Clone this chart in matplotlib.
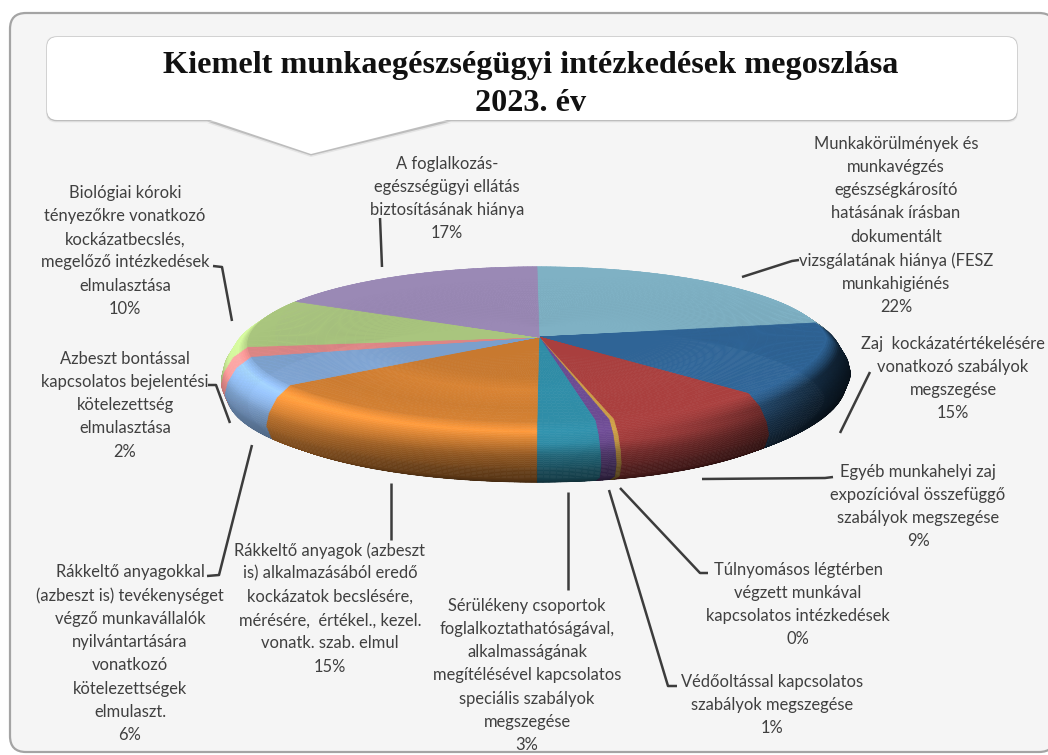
import numpy as np
import matplotlib
matplotlib.use("Agg")
import matplotlib.pyplot as plt
from matplotlib.collections import PolyCollection
from matplotlib.patches import FancyBboxPatch, Polygon

# ---- data (clockwise from the top of the pie) ----
values = [22, 15, 9, 0.25, 0.75, 3, 15, 6, 2, 10, 17]
colors = ["#7FB1C4", "#2F6496", "#A93F3E", "#C79A45", "#6B4A90", "#2F8CA6",
          "#C8792F", "#7B9FCC", "#DC8585", "#A9C57E", "#9A89B5"]
gloss = [0.4, 0.5, 0.15, 0.3, 0.3, 0.2, 1.0, 0.9, 0.6, 0.6, 0.4]
labels = [
    "Munkakörülmények és\nmunkavégzés\negészségkárosító\nhatásának írásban\ndokumentált\nvizsgálatának hiánya (FESZ\nmunkahigiénés\n22%",
    "Zaj  kockázatértékelésére\nvonatkozó szabályok\nmegszegése\n15%",
    "Egyéb munkahelyi zaj\nexpozícióval összefüggő\nszabályok megszegése\n9%",
    "Túlnyomásos légtérben\nvégzett munkával\nkapcsolatos intézkedések\n0%",
    "Védőoltással kapcsolatos\nszabályok megszegése\n1%",
    "Sérülékeny csoportok\nfoglalkoztathatóságával,\nalkalmasságának\nmegítélésével kapcsolatos\nspeciális szabályok\nmegszegése\n3%",
    "Rákkeltő anyagok (azbeszt\nis) alkalmazásából eredő\nkockázatok becslésére,\nmérésére,  értékel., kezel.\nvonatk. szab. elmul\n15%",
    "Rákkeltő anyagokkal\n(azbeszt is) tevékenységet\nvégző munkavállalók\nnyilvántartására\nvonatkozó\nkötelezettségek\nelmulaszt.\n6%",
    "Azbeszt bontással\nkapcsolatos bejelentési\nkötelezettség\nelmulasztása\n2%",
    "Biológiai kóroki\ntényezőkre vonatkozó\nkockázatbecslés,\nmegelőző intézkedések\nelmulasztása\n10%",
    "A foglalkozás-\negészségügyi ellátás\nbiztosításának hiánya\n17%",
]
title = "Kiemelt munkaegészségügyi intézkedések megoszlása\n2023. év"

# label anchors (centre x, top y)
label_pos = [(896, 136), (953, 336), (918, 464), (798, 562), (772, 674), (527, 598),
             (330, 542), (130, 564), (125, 351), (125, 185), (447, 156)]
leaders = [
    [(742, 277), (792, 261), (799, 260)],
    [(840, 433), (870, 372)],
    [(702, 479), (825, 478), (833, 477)],
    [(620, 488), (700, 573), (708, 573)],
    [(609, 490), (668, 686), (677, 686)],
    [(568, 492), (568, 590)],
    [(391, 483), (391, 540)],
    [(252, 445), (219, 575), (207, 576)],
    [(230, 423), (216, 385), (208, 385)],
    [(232, 321), (222, 267), (213, 266)],
    [(382, 267), (380, 218)],
]

fig = plt.figure(figsize=(10.48, 7.55), dpi=100)
ax = fig.add_axes([0, 0, 1, 1])
ax.set_xlim(0, 1048)
ax.set_ylim(755, 0)
ax.axis("off")

# ---- panel ----
ax.add_patch(FancyBboxPatch((10, 13), 1045, 739, boxstyle="round,pad=0,rounding_size=16",
                            fc="#F5F5F5", ec="#A4A4A4", lw=1.6, zorder=1))

# ---- callout ----
ptr = [(207, 120), (311, 154), (451, 120)]
for grow, col in ((3, "#E4E4E4"), (1.5, "#BDBDBD")):
    ax.add_patch(FancyBboxPatch((47 - grow * .3, 37 - grow * .3), 970 + grow * .6, 83 + grow * 1.1,
                                boxstyle="round,pad=0,rounding_size=10", fc=col, ec="none", zorder=1.5))
    ax.add_patch(Polygon([(x, y + grow) for x, y in ptr], fc=col, ec="none", zorder=1.5))
ax.add_patch(FancyBboxPatch((47, 37), 970, 83, boxstyle="round,pad=0,rounding_size=10",
                            fc="white", ec="none", zorder=2))
ax.add_patch(Polygon([(207, 119), (311, 154), (451, 119)], fc="white", ec="none", zorder=2.1))
ax.text(531, 84.5, title, ha="center", va="center", family="Liberation Serif", weight="bold",
        fontsize=23.2, color="#111111", linespacing=1.45, zorder=3)

# ---- pie ----
CX, CY, AX, BY, K, SKEW = 539.0, 337.0, 288.0, 77.0, 0.097, -2.0

def project(r, phi, drop=0.0):
    w = 1 + K * r * np.cos(phi)
    pull = 1 - 0.12 * np.clip(np.sin(phi), 0, 1) * np.clip(-np.cos(phi), 0, 1)
    return CX + SKEW * r + AX * r * np.sin(phi) / w * pull, CY - BY * r * np.cos(phi) / w + drop

T_PTS = [0, .2, .4, .55, .75, 1]
R_PTS = [1, 1.05, 1.08, 1.09, 1.07, 1.0]
D_PTS = [0, 10, 24, 36, 50, 60]
S_T = [0, .12, .25, .42, .62, 1]
S_V = [1.10, 1.28, 1.04, .72, .5, .34]

def shade(rgb, m):
    return np.clip(np.asarray(rgb) * m, 0, 1)

fracs = np.array(values, dtype=float) / sum(values)
edges = np.concatenate([[0], np.cumsum(fracs)]) * 2 * np.pi
ts = np.linspace(0, 1, 46)
quads, qcols, order = [], [], []
for i, col in enumerate(colors):
    base = matplotlib.colors.to_rgb(col)
    n = max(2, int(np.degrees(edges[i + 1] - edges[i])) + 1)
    phis = np.linspace(edges[i], edges[i + 1], n)
    for a, b in zip(phis[:-1], phis[1:]):
        mid = (a + b) / 2
        for t0, t1 in zip(ts[:-1], ts[1:]):
            r0, r1 = np.interp([t0, t1], T_PTS, R_PTS)
            d0, d1 = np.interp([t0, t1], T_PTS, D_PTS)
            q = [project(r0, a, d0), project(r0, b, d0), project(r1, b, d1), project(r1, a, d1)]
            tm = (t0 + t1) / 2
            m = np.interp(tm, S_T, S_V)
            if m > 1:
                m = 1 + (m - 1) * gloss[i]
            s = np.sin(mid)
            if s > 0:
                m = m * (1 - 0.7 * s ** 2 * min(1, tm * 5))
            else:
                m = m + 0.32 * s ** 2 * min(1, tm * 3)
            quads.append(q)
            qcols.append(shade(base, m))
            order.append(-tm)
idx = np.argsort(order, kind="stable")
quads = [quads[j] for j in idx]
qcols = [qcols[j] for j in idx]
ax.add_collection(PolyCollection(quads, facecolors=qcols, edgecolors=qcols, linewidths=0.4, zorder=4))

# flat top, with a soft brightening towards the front edge
rs = np.linspace(0, 1, 31)
quads, qcols = [], []
for i, col in enumerate(colors):
    base = matplotlib.colors.to_rgb(col)
    n = max(2, int(np.degrees(edges[i + 1] - edges[i])) + 1)
    phis = np.linspace(edges[i], edges[i + 1], n)
    for a, b in zip(phis[:-1], phis[1:]):
        front = max(0.0, -np.cos((a + b) / 2))
        for r0, r1 in zip(rs[:-1], rs[1:]):
            rm = (r0 + r1) / 2
            m = 1 + gloss[i] * front * np.interp(rm, [.5, .65, .85, 1], [0, .09, .03, .07])
            quads.append([project(r0, a), project(r0, b), project(r1, b), project(r1, a)])
            qcols.append(shade(base, m))
ax.add_collection(PolyCollection(quads, facecolors=qcols, edgecolors=qcols, linewidths=0.4, zorder=5))

# ---- labels and leaders ----
for txt, (x, y) in zip(labels, label_pos):
    ax.text(x, y, txt, ha="center", va="top", family="Lato", fontsize=11.9,
            color="#404040", linespacing=1.55, zorder=6, clip_on=True)
for pts in leaders:
    xs, ys = zip(*pts)
    ax.plot(xs, ys, color="#3C3C3C", lw=1.8, zorder=6, solid_capstyle="butt")

fig.savefig("out.png", dpi=100, facecolor="white")
